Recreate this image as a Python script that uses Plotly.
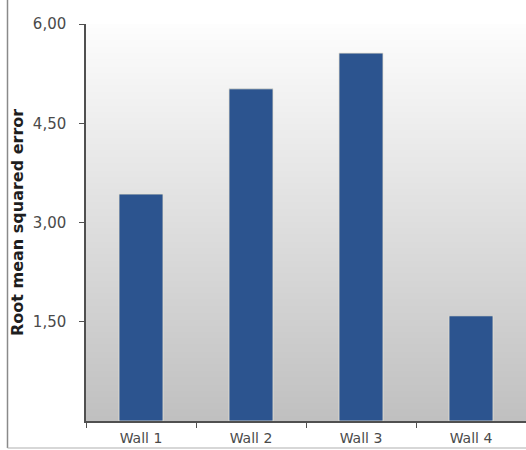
import base64
import struct
import zlib

import plotly.graph_objects as go

# Chart data
walls = ["Wall 1", "Wall 2", "Wall 3", "Wall 4"]
rmse = [3.43, 5.02, 5.56, 1.59]
y_ticks = [1.5, 3.0, 4.5, 6.0]
y_tick_labels = ["1,50", "3,00", "4,50", "6,00"]

W, H = 526, 450
L, R, T, B = 86, 0, 24, 29
plot_w = W - L - R
plot_h = H - T - B


def gradient_png(top, bottom, rows=256):
    """Build a 1-pixel-wide vertical gradient PNG and return it as a data URI."""
    raw = b""
    for i in range(rows):
        f = i / (rows - 1)
        px = bytes(round(top[k] + (bottom[k] - top[k]) * f) for k in range(3))
        raw += b"\x00" + px

    def chunk(tag, data):
        c = struct.pack(">I", len(data)) + tag + data
        return c + struct.pack(">I", zlib.crc32(tag + data) & 0xFFFFFFFF)

    png = b"\x89PNG\r\n\x1a\n"
    png += chunk(b"IHDR", struct.pack(">IIBBBBB", 1, rows, 8, 2, 0, 0, 0))
    png += chunk(b"IDAT", zlib.compress(raw, 9))
    png += chunk(b"IEND", b"")
    return "data:image/png;base64," + base64.b64encode(png).decode()


fig = go.Figure()
fig.add_trace(go.Bar(
    x=walls, y=rmse, width=0.4,
    marker=dict(color="#2c548f", line=dict(color="#e6e1d2", width=0.8)),
))

# plot-area background: near-white at the top fading to grey at the bottom
fig.add_layout_image(dict(
    source=gradient_png((253, 253, 253), (192, 192, 192)),
    xref="paper", yref="paper", x=0, y=1, sizex=1, sizey=1,
    xanchor="left", yanchor="top", sizing="stretch", layer="below",
))

# thin frame on the left and bottom of the figure
fx = (7.5 - L) / plot_w
fy = -(448 - (T + plot_h)) / plot_h
fig_top = (T + plot_h) / plot_h
shapes = [
    dict(type="line", xref="paper", yref="paper", x0=fx, x1=fx,
         y0=fy, y1=fig_top, line=dict(color="#8a8a8a", width=1.5)),
    dict(type="line", xref="paper", yref="paper", x0=fx, x1=1.0,
         y0=fy, y1=fy, line=dict(color="#b0b0b0", width=1.2)),
]

fig.update_layout(
    width=W, height=H,
    margin=dict(l=L, r=R, t=T, b=B, pad=0),
    paper_bgcolor="white", plot_bgcolor="rgba(0,0,0,0)",
    showlegend=False,
    shapes=shapes,
    font=dict(family="DejaVu Sans", color="#4a4a4a", size=13),
    bargap=0.6,
    annotations=[dict(
        text="<b>Root mean squared error</b>", textangle=-90,
        xref="paper", yref="paper", x=(18 - L) / plot_w, y=(plot_h + T - 223) / plot_h,
        xanchor="center", yanchor="middle", showarrow=False,
        font=dict(size=16, color="#1e1e1e"),
    )],
)
fig.update_yaxes(
    range=[0, 6], tickvals=y_ticks, ticktext=y_tick_labels,
    showgrid=False, zeroline=False, automargin=False,
    showline=True, linecolor="#505050", linewidth=1.5,
    ticks="outside", ticklen=5, tickcolor="#505050", tickwidth=1.2,
    ticklabelstandoff=10,
    tickfont=dict(size=15, color="#4a4a4a"),
)
fig.update_xaxes(
    showgrid=False, zeroline=False, automargin=False,
    showline=True, linecolor="#505050", linewidth=1.5,
    ticks="outside", ticklen=5, tickcolor="#505050", tickwidth=1.2,
    tickson="boundaries", ticklabelstandoff=3,
    tickfont=dict(size=14, color="#4a4a4a"),
)

fig.write_html("out.html")
